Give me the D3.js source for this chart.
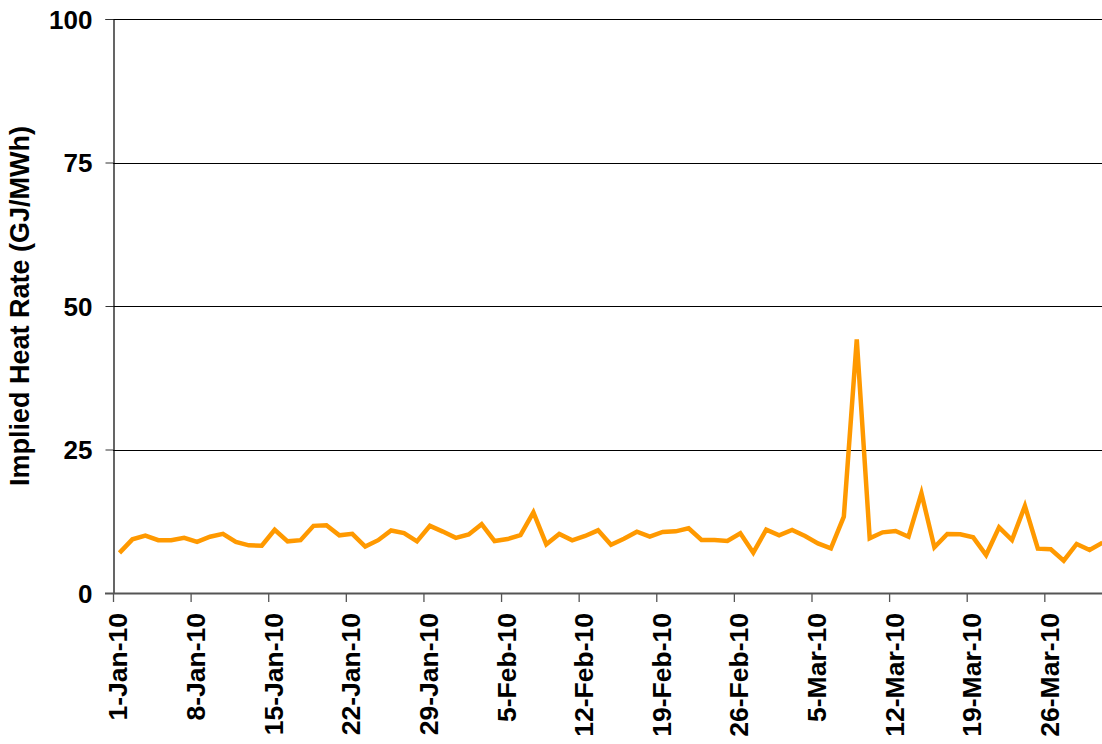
<!DOCTYPE html>
<html>
<head>
<meta charset="utf-8">
<script src="https://cdn.jsdelivr.net/npm/d3@7"></script>
<style>
  html, body { margin: 0; padding: 0; background: #fff; }
  svg { display: block; }
  text { font-family: "Liberation Sans", Arial, sans-serif; font-weight: bold; fill: #000; }
</style>
</head>
<body>
<svg id="chart" width="1102" height="744"></svg>
<script>
// Data (one value per trading day, Sundays omitted)
const values = [
  7.0, 9.35, 10.0, 9.2, 9.2, 9.6, 8.9, 9.8, 10.3, 8.9,
  8.3, 8.25, 11.0, 9.0, 9.2, 11.7, 11.8, 10.05, 10.3, 8.1,
  9.2, 10.9, 10.45, 9.0, 11.7, 10.7, 9.6, 10.2, 12.0, 9.06,
  9.4, 10.1, 14.05, 8.48, 10.28, 9.18, 9.93, 10.92, 8.42, 9.46,
  10.68, 9.81, 10.63, 10.74, 11.27, 9.23, 9.23, 9.06, 10.4, 7.02,
  11.03, 10.05, 11.0, 9.93, 8.65, 7.78, 13.3, 44.2, 9.53, 10.57,
  10.8, 9.81, 17.37, 7.96, 10.28, 10.22, 9.7, 6.62, 11.45, 9.23,
  15.16, 7.73, 7.61, 5.63, 8.54, 7.49, 8.77
];
const tickLabels = [
  "1-Jan-10", "8-Jan-10", "15-Jan-10", "22-Jan-10", "29-Jan-10",
  "5-Feb-10", "12-Feb-10", "19-Feb-10", "26-Feb-10",
  "5-Mar-10", "12-Mar-10", "19-Mar-10", "26-Mar-10"
];
const tickEvery = 6;
const yTicks = [0, 25, 50, 75, 100];
const yTitle = "Implied Heat Rate (GJ/MWh)";

const svg = d3.select("#chart");
const mLeft = 113, mTop = 19, mBottom = 593;
const step = 12.935;
const mRight = mLeft + values.length * step;

const x = d3.scaleBand().domain(d3.range(values.length)).range([mLeft, mRight]).padding(0);
const y = d3.scaleLinear().domain([0, 100]).range([mBottom, mTop]);

// gridlines
svg.append("g").selectAll("line")
  .data(yTicks.filter(d => d > 0))
  .join("line")
  .attr("x1", mLeft).attr("x2", mRight)
  .attr("y1", d => Math.round(y(d)) + 0.5).attr("y2", d => Math.round(y(d)) + 0.5)
  .attr("stroke", "#000").attr("stroke-width", 1);

// y axis
const yAxis = d3.axisLeft(y).tickValues(yTicks).tickSize(8).tickPadding(13).tickFormat(d3.format("d"));
const gy = svg.append("g").attr("transform", `translate(${mLeft + 0.5},0)`).call(yAxis);
gy.select(".domain").attr("stroke", "#000").attr("stroke-width", 1.2);
gy.selectAll(".tick line").attr("stroke", "#333");
gy.selectAll(".tick text").style("font-size", "26px").attr("dy", "0.36em").attr("fill", "#000");

// x axis: ticks at category boundaries every 6 categories, labels centred on categories
const gx = svg.append("g").attr("transform", `translate(0,${mBottom})`);
gx.append("line").attr("x1", mLeft - 8).attr("x2", mRight).attr("y1", 0.5).attr("y2", 0.5)
  .attr("stroke", "#555").attr("stroke-width", 2);
const tickIdx = tickLabels.map((_, i) => i * tickEvery);
gx.selectAll("line.tk").data(tickIdx).join("line").attr("class", "tk")
  .attr("x1", d => x(d) + 0.5).attr("x2", d => x(d) + 0.5)
  .attr("y1", 0).attr("y2", 9)
  .attr("stroke", "#555").attr("stroke-width", 1.3);
gx.selectAll("text.lbl").data(tickIdx).join("text").attr("class", "lbl")
  .attr("transform", d => `translate(${x(d) + x.bandwidth() / 2 + 8},20) rotate(-90)`)
  .attr("text-anchor", "end")
  .style("font-size", "26.5px")
  .text((d, i) => tickLabels[i]);

// y title
svg.append("text")
  .attr("transform", `translate(29,${(mTop + mBottom) / 2}) rotate(-90)`)
  .attr("text-anchor", "middle")
  .style("font-size", "27px")
  .text(yTitle);

// line
const line = d3.line().x((d, i) => x(i) + x.bandwidth() / 2).y(d => y(d));
svg.append("path").datum(values)
  .attr("d", line)
  .attr("fill", "none")
  .attr("stroke", "#FF9900")
  .attr("stroke-width", 4.5)
  .attr("stroke-linejoin", "miter");
</script>
</body>
</html>
